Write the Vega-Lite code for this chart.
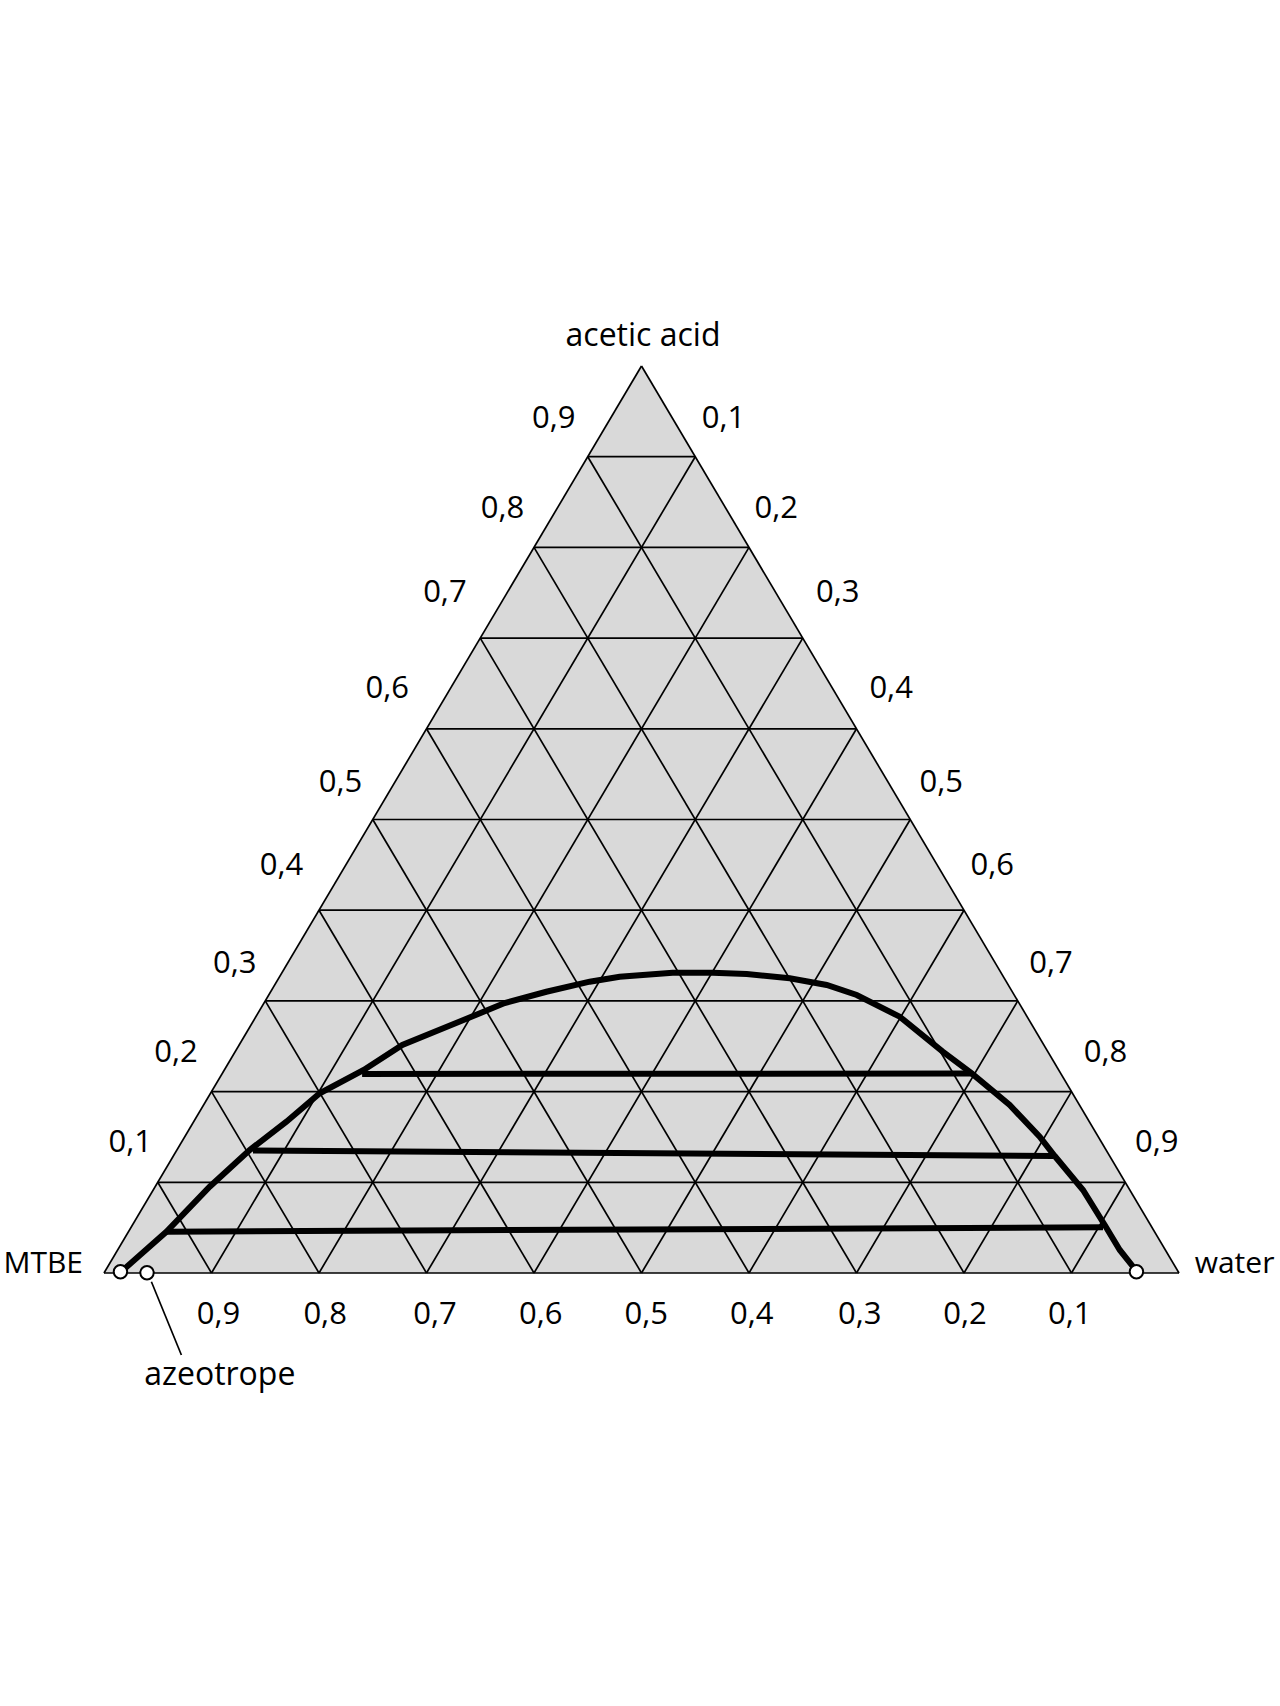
{
  "$schema": "https://vega.github.io/schema/vega-lite/v6.json",
  "autosize": "none",
  "width": 1075,
  "height": 907,
  "padding": {"left": 104, "top": 366, "right": 101, "bottom": 433},
  "background": "white",
  "config": {"view": {"stroke": null}},
  "datasets": {
    "tri": [{"x": 0, "y": 0}, {"x": 0.5, "y": 1}, {"x": 1, "y": 0}],
    "grid": [
      {"x": 0.05, "y": 0.1, "x2": 0.95, "y2": 0.1},
      {"x": 0.1, "y": 0.2, "x2": 0.9, "y2": 0.2},
      {"x": 0.15, "y": 0.3, "x2": 0.85, "y2": 0.3},
      {"x": 0.2, "y": 0.4, "x2": 0.8, "y2": 0.4},
      {"x": 0.25, "y": 0.5, "x2": 0.75, "y2": 0.5},
      {"x": 0.3, "y": 0.6, "x2": 0.7, "y2": 0.6},
      {"x": 0.35, "y": 0.7, "x2": 0.65, "y2": 0.7},
      {"x": 0.4, "y": 0.8, "x2": 0.6, "y2": 0.8},
      {"x": 0.45, "y": 0.9, "x2": 0.55, "y2": 0.9},
      {"x": 0.1, "y": 0, "x2": 0.55, "y2": 0.9},
      {"x": 0.2, "y": 0, "x2": 0.6, "y2": 0.8},
      {"x": 0.3, "y": 0, "x2": 0.65, "y2": 0.7},
      {"x": 0.4, "y": 0, "x2": 0.7, "y2": 0.6},
      {"x": 0.5, "y": 0, "x2": 0.75, "y2": 0.5},
      {"x": 0.6, "y": 0, "x2": 0.8, "y2": 0.4},
      {"x": 0.7, "y": 0, "x2": 0.85, "y2": 0.3},
      {"x": 0.8, "y": 0, "x2": 0.9, "y2": 0.2},
      {"x": 0.9, "y": 0, "x2": 0.95, "y2": 0.1},
      {"x": 0.1, "y": 0, "x2": 0.05, "y2": 0.1},
      {"x": 0.2, "y": 0, "x2": 0.1, "y2": 0.2},
      {"x": 0.3, "y": 0, "x2": 0.15, "y2": 0.3},
      {"x": 0.4, "y": 0, "x2": 0.2, "y2": 0.4},
      {"x": 0.5, "y": 0, "x2": 0.25, "y2": 0.5},
      {"x": 0.6, "y": 0, "x2": 0.3, "y2": 0.6},
      {"x": 0.7, "y": 0, "x2": 0.35, "y2": 0.7},
      {"x": 0.8, "y": 0, "x2": 0.4, "y2": 0.8},
      {"x": 0.9, "y": 0, "x2": 0.45, "y2": 0.9},
      {"x": 0, "y": 0, "x2": 1, "y2": 0},
      {"x": 0, "y": 0, "x2": 0.5, "y2": 1},
      {"x": 1, "y": 0, "x2": 0.5, "y2": 1}
    ],
    "curve": [
      {"i": 1, "x": 0.0165, "y": 0.002},
      {"i": 2, "x": 0.058, "y": 0.0455},
      {"i": 3, "x": 0.0983, "y": 0.0951},
      {"i": 4, "x": 0.1355, "y": 0.1356},
      {"i": 5, "x": 0.1697, "y": 0.1668},
      {"i": 6, "x": 0.2007, "y": 0.1981},
      {"i": 7, "x": 0.2416, "y": 0.2238},
      {"i": 8, "x": 0.2775, "y": 0.2514},
      {"i": 9, "x": 0.3344, "y": 0.2789},
      {"i": 10, "x": 0.3727, "y": 0.2977},
      {"i": 11, "x": 0.4115, "y": 0.3101},
      {"i": 12, "x": 0.4518, "y": 0.3212},
      {"i": 13, "x": 0.4797, "y": 0.3267},
      {"i": 14, "x": 0.529, "y": 0.3311},
      {"i": 15, "x": 0.5662, "y": 0.3311},
      {"i": 16, "x": 0.5979, "y": 0.3297},
      {"i": 17, "x": 0.6379, "y": 0.3249},
      {"i": 18, "x": 0.6723, "y": 0.3175},
      {"i": 19, "x": 0.7002, "y": 0.3065},
      {"i": 20, "x": 0.7402, "y": 0.2826},
      {"i": 21, "x": 0.7802, "y": 0.244},
      {"i": 22, "x": 0.8072, "y": 0.22},
      {"i": 23, "x": 0.8425, "y": 0.1852},
      {"i": 24, "x": 0.8704, "y": 0.1503},
      {"i": 25, "x": 0.8844, "y": 0.129},
      {"i": 26, "x": 0.9107, "y": 0.0915},
      {"i": 27, "x": 0.9309, "y": 0.0529},
      {"i": 28, "x": 0.9449, "y": 0.0254},
      {"i": 29, "x": 0.9597, "y": 0.0033}
    ],
    "ties": [
      {"x": 0.2401, "y": 0.2194, "x2": 0.8069, "y2": 0.22},
      {"x": 0.1386, "y": 0.1351, "x2": 0.8828, "y2": 0.129},
      {"x": 0.058, "y": 0.0455, "x2": 0.9293, "y2": 0.0504}
    ],
    "points": [
      {"x": 0.0153, "y": 0.0014},
      {"x": 0.04, "y": 0.0003},
      {"x": 0.9604, "y": 0.0014}
    ],
    "leader": [{"x": 0.0441, "y": -0.0096, "x2": 0.072, "y2": -0.0904}],
    "labC": [
      {"t": "acetic acid", "x": 0.5014, "y": 1.0221},
      {"t": "azeotrope", "x": 0.1077, "y": -0.1235}
    ],
    "labL": [
      {"t": "MTBE", "x": -0.0935, "y": 0},
      {"t": "water", "x": 1.0146, "y": 0}
    ],
    "ticks": [
      {"t": "0,9", "x": 0.1065, "y": -0.0461},
      {"t": "0,8", "x": 0.2057, "y": -0.0461},
      {"t": "0,7", "x": 0.308, "y": -0.0461},
      {"t": "0,6", "x": 0.4062, "y": -0.0461},
      {"t": "0,5", "x": 0.5044, "y": -0.0461},
      {"t": "0,4", "x": 0.6025, "y": -0.0461},
      {"t": "0,3", "x": 0.703, "y": -0.0461},
      {"t": "0,2", "x": 0.801, "y": -0.0461},
      {"t": "0,1", "x": 0.8983, "y": -0.0461},
      {"t": "0,1", "x": 0.0245, "y": 0.1436},
      {"t": "0,2", "x": 0.067, "y": 0.2431},
      {"t": "0,3", "x": 0.1217, "y": 0.3404},
      {"t": "0,4", "x": 0.1652, "y": 0.4483},
      {"t": "0,5", "x": 0.2199, "y": 0.5407},
      {"t": "0,6", "x": 0.2634, "y": 0.6439},
      {"t": "0,7", "x": 0.3171, "y": 0.7495},
      {"t": "0,8", "x": 0.3707, "y": 0.8419},
      {"t": "0,9", "x": 0.4183, "y": 0.9416},
      {"t": "0,1", "x": 0.5763, "y": 0.9416},
      {"t": "0,2", "x": 0.6253, "y": 0.8427},
      {"t": "0,3", "x": 0.6825, "y": 0.7495},
      {"t": "0,4", "x": 0.7322, "y": 0.6439},
      {"t": "0,5", "x": 0.7788, "y": 0.5407},
      {"t": "0,6", "x": 0.8263, "y": 0.4483},
      {"t": "0,7", "x": 0.881, "y": 0.3404},
      {"t": "0,8", "x": 0.9316, "y": 0.2431},
      {"t": "0,9", "x": 0.9793, "y": 0.1436}
    ]
  },
  "layer": [
    {
      "data": {"name": "tri"},
      "mark": {"type": "area", "color": "#d9d9d9"},
      "encoding": {
        "x": {"field": "x", "type": "quantitative", "scale": {"domain": [0, 1], "nice": false, "zero": false}, "axis": null},
        "y": {"field": "y", "type": "quantitative", "scale": {"domain": [0, 1], "nice": false, "zero": false}, "axis": null}
      }
    },
    {
      "data": {"name": "grid"},
      "mark": {"type": "rule", "color": "black", "strokeWidth": 1.7},
      "encoding": {
        "x": {"field": "x", "type": "quantitative"},
        "y": {"field": "y", "type": "quantitative"},
        "x2": {"field": "x2"},
        "y2": {"field": "y2"}
      }
    },
    {
      "data": {"name": "ties"},
      "mark": {"type": "rule", "color": "black", "strokeWidth": 6},
      "encoding": {
        "x": {"field": "x", "type": "quantitative"},
        "y": {"field": "y", "type": "quantitative"},
        "x2": {"field": "x2"},
        "y2": {"field": "y2"}
      }
    },
    {
      "data": {"name": "curve"},
      "mark": {"type": "line", "color": "black", "strokeWidth": 6},
      "encoding": {
        "x": {"field": "x", "type": "quantitative"},
        "y": {"field": "y", "type": "quantitative"},
        "order": {"field": "i", "type": "quantitative"}
      }
    },
    {
      "data": {"name": "leader"},
      "mark": {"type": "rule", "color": "black", "strokeWidth": 1.7},
      "encoding": {
        "x": {"field": "x", "type": "quantitative"},
        "y": {"field": "y", "type": "quantitative"},
        "x2": {"field": "x2"},
        "y2": {"field": "y2"}
      }
    },
    {
      "data": {"name": "points"},
      "mark": {"type": "point", "shape": "circle", "filled": false, "fill": "white", "fillOpacity": 1, "stroke": "black", "strokeWidth": 2, "size": 180, "opacity": 1},
      "encoding": {
        "x": {"field": "x", "type": "quantitative"},
        "y": {"field": "y", "type": "quantitative"}
      }
    },
    {
      "data": {"name": "labC"},
      "mark": {"type": "text", "font": "Open Sans", "fontSize": 32, "baseline": "alphabetic", "align": "center", "color": "black"},
      "encoding": {
        "x": {"field": "x", "type": "quantitative"},
        "y": {"field": "y", "type": "quantitative"},
        "text": {"field": "t"}
      }
    },
    {
      "data": {"name": "labL"},
      "mark": {"type": "text", "font": "Open Sans", "fontSize": 30, "baseline": "alphabetic", "align": "left", "color": "black"},
      "encoding": {
        "x": {"field": "x", "type": "quantitative"},
        "y": {"field": "y", "type": "quantitative"},
        "text": {"field": "t"}
      }
    },
    {
      "data": {"name": "ticks"},
      "mark": {"type": "text", "font": "Open Sans", "fontSize": 31, "baseline": "middle", "align": "center", "color": "black"},
      "encoding": {
        "x": {"field": "x", "type": "quantitative"},
        "y": {"field": "y", "type": "quantitative"},
        "text": {"field": "t"}
      }
    }
  ]
}
